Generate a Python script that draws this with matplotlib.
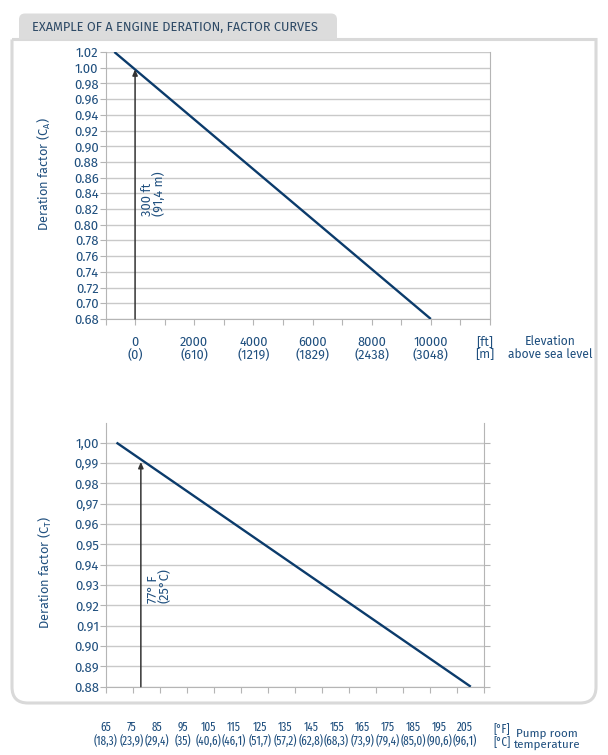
import matplotlib
matplotlib.use("Agg")
import matplotlib.pyplot as plt
from matplotlib.path import Path
from matplotlib.patches import PathPatch

plt.rcParams['font.family'] = ['Fira Sans', 'Lato', 'DejaVu Sans']
plt.rcParams['mathtext.default'] = 'regular'
NARROW = ['Fira Sans Extra Condensed', 'PT Sans Narrow', 'Lato', 'DejaVu Sans']

# ---------------- data ----------------
title = "EXAMPLE OF A ENGINE DERATION, FACTOR CURVES"

elev_ft = [-700, 10000]
elev_factor = [1.02, 0.68]
elev_ticks = [0, 2000, 4000, 6000, 8000, 10000]
elev_tick_m = ["(0)", "(610)", "(1219)", "(1829)", "(2438)", "(3048)"]
elev_yticks = [0.68, 0.70, 0.72, 0.74, 0.76, 0.78, 0.80, 0.82, 0.84, 0.86,
               0.88, 0.90, 0.92, 0.94, 0.96, 0.98, 1.00, 1.02]
elev_arrow_x = 0
elev_arrow_top = 0.998
elev_arrow_label = "300 ft\n(91,4 m)"

temp_f = [69, 200]
temp_factor = [1.00, 0.88]
temp_ticks_f = [65, 75, 85, 95, 105, 115, 125, 135, 145, 155, 165, 175, 185, 195, 205]
temp_ticks_c = ["(18,3)", "(23,9)", "(29,4)", "(35)", "(40,6)", "(46,1)", "(51,7)", "(57,2)",
                "(62,8)", "(68,3)", "(73,9)", "(79,4)", "(85,0)", "(90,6)", "(96,1)"]
temp_yticks = [0.88, 0.89, 0.90, 0.91, 0.92, 0.93, 0.94, 0.95, 0.96, 0.97, 0.98, 0.99, 1.00]
temp_ylabels = ["0.88", "0.89", "0.90", "0.91", "0.92", "0.93", "0.94", "0.95",
                "0.96", "0,97", "0.98", "0,99", "1,00"]
temp_arrow_x = 78
temp_arrow_top = 0.9905
temp_arrow_label = "77° F\n(25°C)"

# ---------------- style ----------------
W, H = 608, 755
TXT = "#1f4f7e"
LINE = "#0b3b6b"
GRID = "#c9c9c9"
SPINE = "#b5b5b5"
FRAME = "#d9d9d9"

fig = plt.figure(figsize=(W / 100, H / 100), dpi=100)


def fx(px):
    return px / W


def fy(py):
    return 1 - py / H


# frame with rounded bottom corners
L, R, T, B, r = 12, 596, 39.5, 703, 16
verts = [(L, T), (L, B - r), (L, B), (L + r, B), (R - r, B), (R, B), (R, B - r), (R, T), (L, T)]
codes = [Path.MOVETO, Path.LINETO, Path.CURVE3, Path.CURVE3, Path.LINETO, Path.CURVE3,
         Path.CURVE3, Path.LINETO, Path.LINETO]
frame = Path([(fx(x), fy(y)) for x, y in verts], codes)
fig.patches.append(PathPatch(frame, transform=fig.transFigure, facecolor="none",
                             edgecolor=FRAME, lw=2.2, zorder=0))

# tab with rounded top corners
tL, tR, tT, tB, tr = 19, 337, 13.5, 39.5, 6
tverts = [(tL, tB), (tL, tT + tr), (tL, tT), (tL + tr, tT), (tR - tr, tT), (tR, tT),
          (tR, tT + tr), (tR, tB), (tL, tB)]
tcodes = [Path.MOVETO, Path.LINETO, Path.CURVE3, Path.CURVE3, Path.LINETO, Path.CURVE3,
          Path.CURVE3, Path.LINETO, Path.CLOSEPOLY]
tab = Path([(fx(x), fy(y)) for x, y in tverts], tcodes)
fig.patches.append(PathPatch(tab, transform=fig.transFigure, facecolor="#dcdcdc",
                             edgecolor="none", zorder=0))
fig.text(fx(32), fy(27), title, color="#2e4a66", fontsize=9.2, va="center", ha="left")

# ---------------- top chart ----------------
ax1 = fig.add_axes([fx(105.5), fy(319), fx(490) - fx(105.5), fy(52) - fy(319)])
ax1.plot(elev_ft, elev_factor, color=LINE, lw=1.7, solid_capstyle="butt", zorder=3)
ax1.set_xlim(-1000, 12000)
ax1.set_ylim(0.68, 1.02)
ax1.set_yticks(elev_yticks)
ax1.set_yticklabels([f"{v:.2f}" for v in elev_yticks])
ax1.set_xticks(range(-1000, 12001, 1000))
ax1.set_xticklabels([f"{t}\n{elev_tick_m[elev_ticks.index(t)]}" if t in elev_ticks else ""
                     for t in range(-1000, 12001, 1000)], linespacing=1.05)
ax1.grid(axis="y", color=GRID, lw=1)
ax1.set_axisbelow(True)
ax1.spines["top"].set_visible(False)
for s in ["left", "bottom", "right"]:
    ax1.spines[s].set_color(SPINE)
ax1.tick_params(axis="y", colors=SPINE, labelcolor=TXT, labelsize=9.4, length=4, pad=1)
ax1.tick_params(axis="x", colors=SPINE, labelcolor=TXT, labelsize=9.2, length=4, pad=8)
ax1.set_ylabel("Deration factor (C$_A$)", color=TXT, fontsize=9.2)
ax1.yaxis.set_label_coords(fx(53), fy(174), transform=fig.transFigure)
ax1.annotate("", xy=(elev_arrow_x, elev_arrow_top), xytext=(elev_arrow_x, 0.68),
             arrowprops=dict(arrowstyle="-|>,head_length=0.35,head_width=0.15",
                             color="#333333", lw=1.1, shrinkA=0, shrinkB=0), zorder=4)
ax1.text(elev_arrow_x + 200, 0.839, elev_arrow_label, rotation=90, color=TXT, fontsize=9.2,
         ha="left", va="center", linespacing=0.95)
fig.text(fx(485), fy(348), "[ft]\n[m]", color=TXT, fontsize=9.2, ha="center", va="center",
         linespacing=1.05)
fig.text(fx(550), fy(348), "Elevation\nabove sea level", color=TXT, fontsize=8.7,
         ha="center", va="center", linespacing=1.1)

# ---------------- bottom chart ----------------
ax2 = fig.add_axes([fx(105.7), fy(686.7), fx(484.3) - fx(105.7), fy(422.7) - fy(686.7)])
ax2.plot(temp_f, temp_factor, color=LINE, lw=1.7, solid_capstyle="butt", zorder=3)
ax2.set_xlim(65, 205)
ax2.set_ylim(0.88, 1.0098)
ax2.set_yticks(temp_yticks)
ax2.set_yticklabels(temp_ylabels)
ax2.set_xticks(temp_ticks_f)
ax2.set_xticklabels([])
ax2.grid(axis="y", color=GRID, lw=1)
ax2.set_axisbelow(True)
ax2.spines["top"].set_visible(False)
for s in ["left", "bottom", "right"]:
    ax2.spines[s].set_color(SPINE)
ax2.tick_params(axis="y", colors=SPINE, labelcolor=TXT, labelsize=9.4, length=4, pad=1,
                right=True)
ax2.tick_params(axis="x", colors=SPINE, length=4)
ax2.set_ylabel("Deration factor (C$_T$)", color=TXT, fontsize=9.2)
ax2.yaxis.set_label_coords(fx(54), fy(572), transform=fig.transFigure)
ax2.annotate("", xy=(temp_arrow_x, temp_arrow_top), xytext=(temp_arrow_x, 0.88),
             arrowprops=dict(arrowstyle="-|>,head_length=0.35,head_width=0.15",
                             color="#333333", lw=1.1, shrinkA=0, shrinkB=0), zorder=4)
ax2.text(temp_arrow_x + 2.2, 0.9295, temp_arrow_label, rotation=90, color=TXT, fontsize=9.2,
         ha="left", va="center", linespacing=0.95)

# label strip for temperatures (placed below the frame)
ax3 = fig.add_axes([fx(105.7), fy(721), fx(465) - fx(105.7), 0.001])
ax3.set_xlim(65, 205)
ax3.set_xticks(temp_ticks_f)
ax3.set_xticklabels([f"{f}\n{c}" for f, c in zip(temp_ticks_f, temp_ticks_c)],
                    family=NARROW, linespacing=1.1)
ax3.tick_params(axis="x", length=0, pad=0, labelcolor=TXT, labelsize=8.7)
ax3.set_yticks([])
for s in ax3.spines.values():
    s.set_visible(False)
ax3.patch.set_visible(False)
fig.text(fx(502), fy(736), "[°F]\n[°C]", color=TXT, fontsize=8.7, ha="center", va="center",
         linespacing=1.1, family=NARROW)
fig.text(fx(547), fy(739), "Pump room\ntemperature", color=TXT, fontsize=8.4,
         ha="center", va="center", linespacing=1.0)

fig.savefig("out.png", dpi=100)
